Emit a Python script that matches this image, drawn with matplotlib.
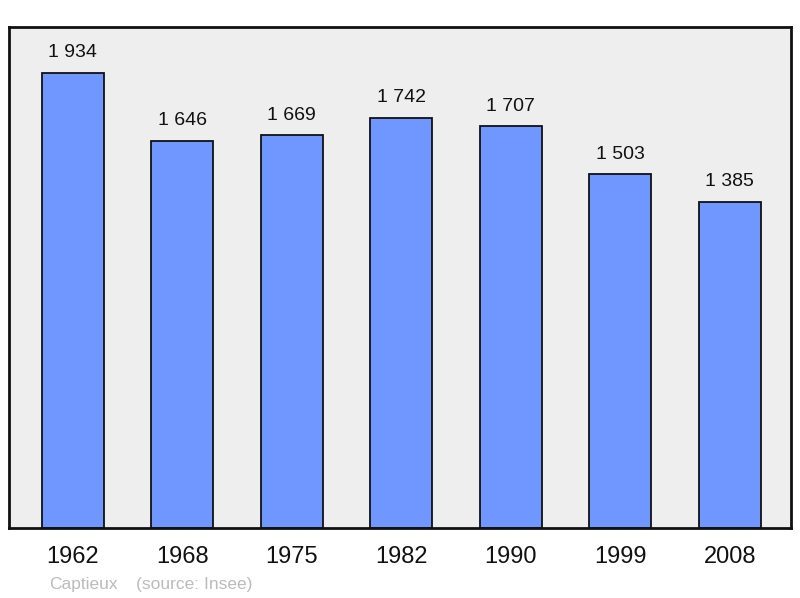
import matplotlib.pyplot as plt

years = ['1962', '1968', '1975', '1982', '1990', '1999', '2008']
population = [1934, 1646, 1669, 1742, 1707, 1503, 1385]
labels = ['1 934', '1 646', '1 669', '1 742', '1 707', '1 503', '1 385']

plt.rcParams['font.family'] = ['Liberation Sans', 'DejaVu Sans']

fig = plt.figure(figsize=(8, 5.98), dpi=100)
ax = fig.add_axes([9 / 800, 70 / 598, 782 / 800, 501 / 598])
ax.set_facecolor('#EEEEEE')

x = range(len(years))
ax.bar(x, population, width=0.566, color='#7096FF', edgecolor='#111111',
       linewidth=1.3, zorder=2)

for i, (v, lab) in enumerate(zip(population, labels)):
    ax.annotate(lab, (i, v), xytext=(0, 8.5), textcoords='offset points',
                ha='center', va='bottom', fontsize=14, color='#111111')

ax.set_xlim(-0.584, 6.56)
ax.set_ylim(0, 2130)
ax.set_xticks(list(x))
ax.set_xticklabels(years, fontsize=17, color='#111111')
ax.tick_params(axis='x', length=0, pad=13)
ax.set_yticks([])
for s in ax.spines.values():
    s.set_linewidth(2)
    s.set_color('#111111')

fig.text(49 / 800, 1 - 584 / 598, 'Captieux', fontsize=12.5, color='#BBBBBB',
         ha='left', va='center')
fig.text(136 / 800, 1 - 584 / 598, '(source: Insee)', fontsize=12.5,
         color='#BBBBBB', ha='left', va='center')

fig.savefig('out.png', dpi=100)
